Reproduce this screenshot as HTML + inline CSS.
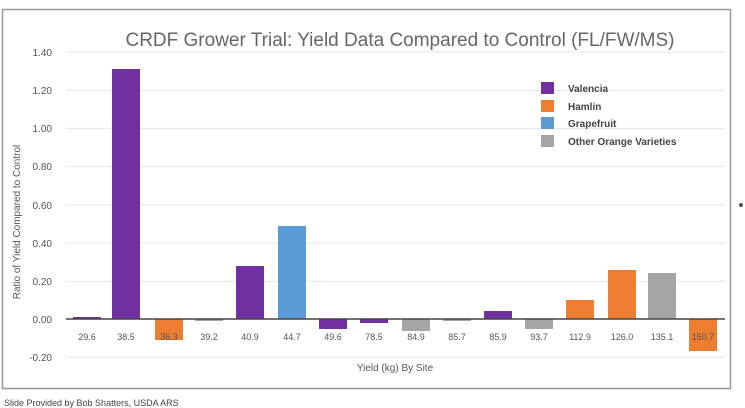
<!DOCTYPE html>
<html><head><style>body{margin:0;background:#fff}svg{display:block;font-family:"Liberation Sans",sans-serif}</style></head><body>
<svg width="745" height="408" xmlns="http://www.w3.org/2000/svg">
<rect x="2.5" y="9.5" width="728" height="379" fill="#fff" stroke="#999" stroke-width="1.5"/>
<circle cx="741" cy="205" r="2" fill="#555"/>
<text x="400" y="46" text-anchor="middle" font-size="19" fill="#666">CRDF Grower Trial:  Yield Data Compared to Control (FL/FW/MS)</text>
<g stroke="#e4e4e4" stroke-width="1">
<line x1="66" x2="725" y1="52" y2="52"/><line x1="66" x2="725" y1="90.2" y2="90.2"/><line x1="66" x2="725" y1="128.4" y2="128.4"/><line x1="66" x2="725" y1="166.6" y2="166.6"/><line x1="66" x2="725" y1="204.8" y2="204.8"/><line x1="66" x2="725" y1="243" y2="243"/><line x1="66" x2="725" y1="281.2" y2="281.2"/><line x1="66" x2="725" y1="357.2" y2="357.2"/>
</g>
<g font-size="10" fill="#555" text-anchor="end">
<text x="52" y="56">1.40</text><text x="52" y="94">1.20</text><text x="52" y="132">1.00</text><text x="52" y="170">0.80</text><text x="52" y="209">0.60</text><text x="52" y="247">0.40</text><text x="52" y="285">0.20</text><text x="52" y="323">0.00</text><text x="52" y="361">-0.20</text>
</g>
<text transform="translate(20,222) rotate(-90)" text-anchor="middle" font-size="10" fill="#555">Ratio of Yield Compared to Control</text>
<g>
<rect x="73" y="317" width="28" height="2" fill="#7030a0"/>
<rect x="112" y="69" width="28" height="250" fill="#7030a0"/>
<rect x="155" y="319" width="28" height="21" fill="#ed7d31"/>
<rect x="195" y="319" width="28" height="2" fill="#a5a5a5"/>
<rect x="236" y="266" width="28" height="53" fill="#7030a0"/>
<rect x="278" y="226" width="28" height="93" fill="#5b9bd5"/>
<rect x="319" y="319" width="28" height="10" fill="#7030a0"/>
<rect x="360" y="319" width="28" height="4" fill="#7030a0"/>
<rect x="402" y="319" width="28" height="12" fill="#a5a5a5"/>
<rect x="443" y="319" width="28" height="2" fill="#a5a5a5"/>
<rect x="484" y="311" width="28" height="8" fill="#7030a0"/>
<rect x="525" y="319" width="28" height="10" fill="#a5a5a5"/>
<rect x="566" y="300" width="28" height="19" fill="#ed7d31"/>
<rect x="608" y="270" width="28" height="49" fill="#ed7d31"/>
<rect x="648" y="273" width="28" height="46" fill="#a5a5a5"/>
<rect x="689" y="319" width="28" height="32" fill="#ed7d31"/>
</g>
<line x1="66" x2="725" y1="319" y2="319" stroke="#444" stroke-width="1.5"/>
<g font-size="9" fill="#555" text-anchor="middle">
<text x="87" y="340">29.6</text><text x="126" y="340">38.5</text><text x="169" y="340">36.3</text><text x="209" y="340">39.2</text><text x="250" y="340">40.9</text><text x="292" y="340">44.7</text><text x="333" y="340">49.6</text><text x="374" y="340">78.5</text><text x="416" y="340">84.9</text><text x="457" y="340">85.7</text><text x="498" y="340">85.9</text><text x="539" y="340">93.7</text><text x="580" y="340">112.9</text><text x="622" y="340">126.0</text><text x="662" y="340">135.1</text><text x="703" y="340">150.7</text>
</g>
<text x="395" y="371" text-anchor="middle" font-size="10" fill="#555">Yield (kg) By Site</text>
<g font-size="10" font-weight="bold" fill="#444">
<rect x="541" y="82" width="13" height="12" fill="#7030a0"/><text x="568" y="92">Valencia</text>
<rect x="541" y="100" width="13" height="12" fill="#ed7d31"/><text x="568" y="110">Hamlin</text>
<rect x="541" y="117" width="13" height="12" fill="#5b9bd5"/><text x="568" y="127">Grapefruit</text>
<rect x="541" y="135" width="13" height="12" fill="#a5a5a5"/><text x="568" y="145">Other Orange Varieties</text>
</g>
<text x="4" y="406" font-size="9" fill="#444">Slide Provided by Bob Shatters, USDA ARS</text>
</svg>
</body></html>
